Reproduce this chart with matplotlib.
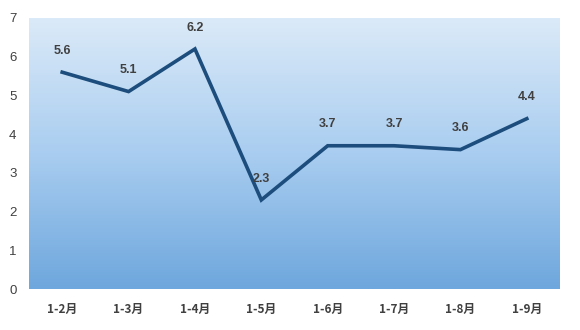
import matplotlib
matplotlib.use("Agg")
import matplotlib.pyplot as plt
import numpy as np
from matplotlib.colors import LinearSegmentedColormap

categories = ["1-2月", "1-3月", "1-4月", "1-5月", "1-6月", "1-7月", "1-8月", "1-9月"]
values = [5.6, 5.1, 6.2, 2.3, 3.7, 3.7, 3.6, 4.4]
yticks = [0, 1, 2, 3, 4, 5, 6, 7]

plt.rcParams['font.family'] = ['Noto Sans CJK SC', 'DejaVu Sans']

fig = plt.figure(figsize=(5.8, 3.3), dpi=100)
ax = fig.add_axes([29/580, 1-289/330, 531/580, 271/330])

x = np.arange(len(categories))
ax.set_xlim(-0.5, len(categories)-0.5)
ax.set_ylim(0, 7)

cmap = LinearSegmentedColormap.from_list("bg", ["#6ea7dd", "#a9cdf0", "#dbeaf8"])
grad = np.linspace(0, 1, 256).reshape(-1, 1)
ax.imshow(grad, aspect='auto', cmap=cmap, origin='lower',
          extent=[-0.5, len(categories)-0.5, 0, 7], zorder=0)

ax.plot(x, values, color="#1c4d7c", lw=2.6, zorder=3, solid_joinstyle='miter')
for xi, v in zip(x, values):
    ax.annotate(f"{v}", (xi, v), xytext=(0, 11), textcoords='offset points',
                ha='center', va='bottom', fontsize=9, fontweight='bold', color='#404040',
                family=['Liberation Sans', 'DejaVu Sans'])

ax.set_xticks(x)
ax.set_xticklabels(categories, fontsize=8.5, fontweight='bold', color='#404040')
ax.set_yticks(yticks)
ax.set_yticklabels([str(t) for t in yticks], fontsize=9.5, color='#404040',
                   family=['Liberation Sans', 'DejaVu Sans'])
ax.tick_params(axis='both', length=0)
ax.tick_params(axis='x', pad=10)
ax.tick_params(axis='y', pad=9)
for s in ax.spines.values():
    s.set_visible(False)

fig.savefig("out.png", dpi=100)
